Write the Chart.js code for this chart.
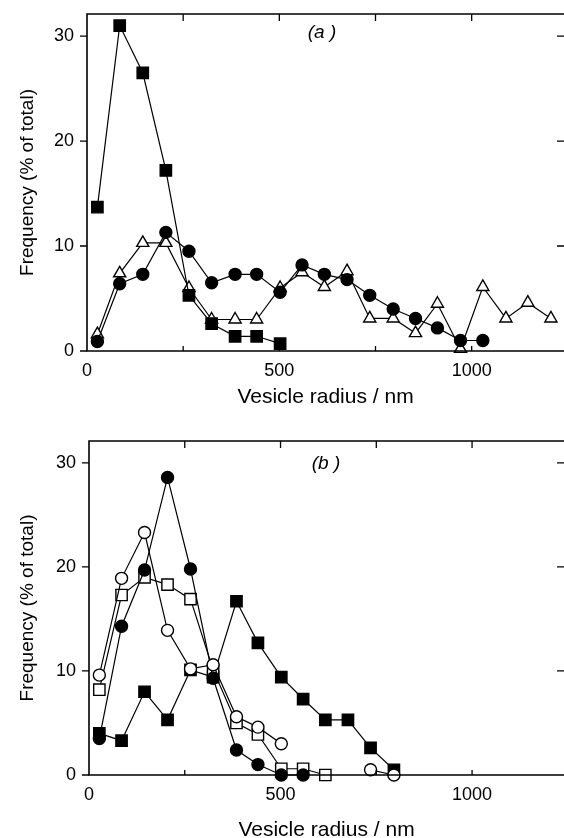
<!DOCTYPE html>
<html>
<head>
<meta charset="utf-8">
<script src="https://cdn.jsdelivr.net/npm/chart.js@4.4.1/dist/chart.umd.min.js"></script>
<style>
  html, body { margin: 0; padding: 0; background: #fff; overflow: hidden; }
  body { width: 564px; height: 838px; position: relative; }
  canvas { position: absolute; left: 0; }
  #chartA { top: 0; }
  #chartB { top: 420px; }
</style>
</head>
<body>
<canvas id="chartA" width="564" height="420"></canvas>
<canvas id="chartB" width="564" height="430"></canvas>
<script>
// vesicle radius bins (nm), shared by both panels
const radiusNm = [27, 85, 145, 205, 265, 324, 385, 441, 502, 559, 617, 676, 735, 796, 854, 911, 971, 1029, 1089, 1146, 1206];

// panel (a)
const aFilledSquare = [13.7, 31.0, 26.5, 17.2, 5.3, 2.6, 1.4, 1.4, 0.7];
const aFilledCircle = [0.9, 6.4, 7.3, 11.3, 9.5, 6.5, 7.3, 7.3, 5.6, 8.2, 7.3, 6.8, 5.3, 4.0, 3.1, 2.2, 1.0, 1.0];
const aOpenTriangle = [1.6, 7.4, 10.3, 10.3, 6.0, 3.0, 3.0, 3.0, 6.0, 7.5, 6.1, 7.6, 3.1, 3.1, 1.7, 4.5, 0.2, 6.1, 3.1, 4.6, 3.1];

// panel (b)
const bFilledSquare = [4.0, 3.3, 8.0, 5.3, 10.1, 9.4, 16.7, 12.7, 9.4, 7.3, 5.3, 5.3, 2.6, 0.5];
const bFilledCircle = [3.5, 14.3, 19.7, 28.6, 19.8, 9.3, 2.4, 1.0, 0.0, 0.0];
const bOpenCircle = [9.6, 18.9, 23.3, 13.9, 10.2, 10.6, 5.6, 4.6, 3.0, null, null, null, 0.5, 0.0];
const bOpenSquare = [8.2, 17.3, 19.0, 18.3, 16.9, 10.1, 5.0, 3.9, 0.6, 0.6, 0.0];

const xTickLabels = [0, 500, 1000];
const xMinorTicks = [250, 500, 750, 1000];
const yTickLabels = [0, 10, 20, 30];

const FONT = "'Liberation Sans', Arial, Helvetica, sans-serif";
Chart.defaults.font.family = FONT;
Chart.defaults.color = '#000';

function series(ys, style, filled, radius) {
    return {
        data: ys.map((v, i) => ({ x: radiusNm[i], y: v })),
        showLine: true,
        spanGaps: false,
        borderColor: '#000',
        borderWidth: 1.2,
        pointStyle: style,
        pointRadius: radius,
        pointHoverRadius: radius,
        pointBackgroundColor: filled ? '#000' : '#fff',
        pointBorderColor: '#000',
        pointBorderWidth: 1.4,
        clip: false
    };
}

// frame, inward/outward ticks and the panel letter
const framePlugin = {
    id: 'frame',
    afterDraw(chart, args, opts) {
        const { ctx, chartArea: a, scales: { x, y } } = chart;
        ctx.save();
        ctx.strokeStyle = '#000';
        ctx.lineWidth = 1.6;
        ctx.beginPath();
        ctx.moveTo(a.right, a.top);
        ctx.lineTo(a.left, a.top);
        ctx.lineTo(a.left, a.bottom);
        ctx.lineTo(a.right, a.bottom);
        ctx.stroke();

        ctx.lineWidth = 1.3;
        ctx.beginPath();
        xMinorTicks.forEach(v => {
            const px = x.getPixelForValue(v);
            ctx.moveTo(px, a.top);
            ctx.lineTo(px, a.top + 7);
            ctx.moveTo(px, a.bottom);
            ctx.lineTo(px, a.bottom - 5);
        });
        yTickLabels.forEach(v => {
            const py = y.getPixelForValue(v);
            ctx.moveTo(a.left - 7, py);
            ctx.lineTo(a.left, py);
            if (v > 0) {
                ctx.moveTo(a.right - 7, py);
                ctx.lineTo(a.right, py);
            }
        });
        ctx.stroke();

        ctx.fillStyle = '#000';
        ctx.font = 'italic 19px ' + FONT;
        ctx.textAlign = 'center';
        ctx.textBaseline = 'middle';
        ctx.fillText(opts.label, opts.lx, opts.ly);
        ctx.restore();
    }
};

function noPad(s) {
    s.paddingLeft = 0;
    s.paddingRight = 0;
    s.paddingTop = 0;
    s.paddingBottom = 0;
}

function makeChart(id, datasets, o) {
    return new Chart(document.getElementById(id), {
        type: 'scatter',
        data: { datasets },
        plugins: [framePlugin],
        options: {
            responsive: false,
            animation: false,
            layout: { autoPadding: false, padding: { top: o.top, left: 0, right: 0, bottom: 0 } },
            plugins: {
                legend: { display: false },
                tooltip: { enabled: false },
                frame: { label: o.label, lx: o.lx, ly: o.ly }
            },
            scales: {
                x: {
                    type: 'linear',
                    min: 0,
                    max: 1240,
                    grid: { display: false, drawTicks: false },
                    border: { display: false },
                    afterBuildTicks: s => { s.ticks = xTickLabels.map(v => ({ value: v })); },
                    afterFit: s => { s.height = o.xHeight; noPad(s); },
                    ticks: {
                        font: { size: 18 },
                        padding: 9,
                        maxRotation: 0,
                        autoSkip: false,
                        callback: v => String(v)
                    },
                    title: {
                        display: true,
                        text: 'Vesicle radius / nm',
                        font: { size: 21 },
                        padding: { top: 0, bottom: o.titlePad }
                    }
                },
                y: {
                    min: 0,
                    max: 32.1,
                    grid: { display: false, drawTicks: false },
                    border: { display: false },
                    afterBuildTicks: s => { s.ticks = yTickLabels.map(v => ({ value: v })); },
                    afterFit: s => { s.width = o.left; noPad(s); },
                    ticks: { font: { size: 18 }, padding: 13, callback: v => String(v) },
                    title: {
                        display: true,
                        text: 'Frequency (% of total)',
                        font: { size: 19 },
                        padding: { top: 16, bottom: 0 }
                    }
                }
            }
        }
    });
}

makeChart('chartA', [
    series(aFilledSquare, 'rect', true, 8),
    series(aFilledCircle, 'circle', true, 6),
    series(aOpenTriangle, 'triangle', false, 7)
], { top: 14, left: 87, xHeight: 69, titlePad: 10, label: '(a )', lx: 322, ly: 33 });

makeChart('chartB', [
    series(bOpenCircle, 'circle', false, 6),
    series(bFilledCircle, 'circle', true, 6),
    series(bOpenSquare, 'rect', false, 8),
    series(bFilledSquare, 'rect', true, 8)
], { top: 21, left: 89, xHeight: 75, titlePad: 7, label: '(b )', lx: 326, ly: 44 });
</script>
</body>
</html>
